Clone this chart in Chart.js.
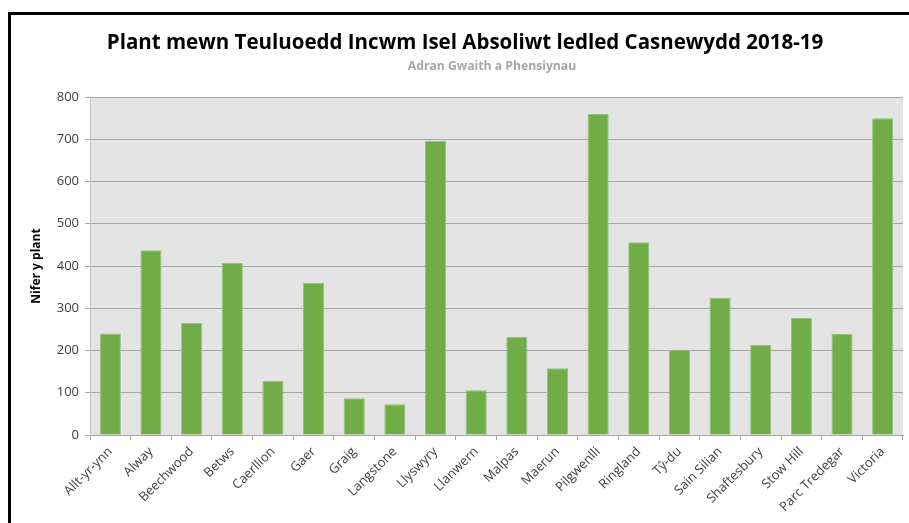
<!DOCTYPE html>
<html>
<head>
<meta charset="utf-8">
<script src="https://cdn.jsdelivr.net/npm/chart.js@4.4.1/dist/chart.umd.min.js"></script>
<style>
  html, body { margin: 0; padding: 0; background: #fff; }
  #wrap { position: relative; width: 909px; height: 523px; overflow: hidden; }
  #frameLeft { position: absolute; left: 8px; top: 12px; width: 3px; height: 520px; background: #000; }
  #frameTop { position: absolute; left: 8px; top: 12px; width: 910px; height: 3px; background: #000; }
  canvas { position: absolute; left: 0; top: 0; }
</style>
</head>
<body>
<div id="wrap">
  <canvas id="chart" width="909" height="523"></canvas>
  <div id="frameLeft"></div>
  <div id="frameTop"></div>
</div>
<script>
"use strict";

// Wards (x categories)
const wards = [
    "Allt-yr-ynn", "Alway", "Beechwood", "Betws", "Caerllion", "Gaer", "Graig",
    "Langstone", "Llyswyry", "Llanwern", "Malpas", "Maerun", "Pilgwenlli",
    "Ringland", "Tŷ-du", "Sain Silian", "Shaftesbury", "Stow Hill",
    "Parc Tredegar", "Victoria"
];

// Number of children per ward
const children = [
    240, 437, 265, 407, 128, 360, 87, 73, 696, 106,
    232, 158, 760, 456, 202, 325, 213, 277, 239, 750
];

const yTicks = [0, 100, 200, 300, 400, 500, 600, 700, 800];

const TITLE = "Plant mewn Teuluoedd Incwm Isel Absoliwt ledled Casnewydd 2018-19";
const SUBTITLE = "Adran Gwaith a Phensiynau";

const FONT = "'Open Sans', 'Noto Sans', sans-serif";

// grey plot background
const plotBackground = {
    id: "plotBackground",
    beforeDraw(chart) {
        const { ctx, chartArea: a } = chart;
        ctx.save();
        ctx.fillStyle = "#e4e4e4";
        ctx.fillRect(a.left, a.top, a.right - a.left, a.bottom - a.top);
        ctx.restore();
    }
};

// title + subtitle (the original sits a bit right of the canvas centre)
const headings = {
    id: "headings",
    afterDraw(chart) {
        const c = chart.ctx;
        c.save();
        c.textAlign = "center";
        c.textBaseline = "middle";
        c.fillStyle = "#000";
        c.font = "bold 20.5px " + FONT;
        c.fillText(TITLE, 465, 43);
        c.fillStyle = "#a6a6a6";
        c.font = "bold 12.2px " + FONT;
        c.fillText(SUBTITLE, 492, 67);
        c.restore();
    }
};

const ctx = document.getElementById("chart").getContext("2d");

new Chart(ctx, {
    type: "bar",
    data: {
        labels: wards,
        datasets: [{
            label: "Nifer y plant",
            data: children,
            backgroundColor: "#70ad47",
            borderColor: "#93c47a",
            borderWidth: 1,
            categoryPercentage: 1,
            barPercentage: 0.52
        }]
    },
    options: {
        responsive: false,
        animation: false,
        layout: { padding: { left: 0, right: 6, top: 97, bottom: 0 } },
        plugins: {
            legend: { display: false },
            tooltip: { enabled: false }
        },
        scales: {
            x: {
                grid: {
                    offset: true,
                    drawOnChartArea: false,
                    drawTicks: true,
                    tickLength: 5,
                    color: "#a6a6a6"
                },
                border: { color: "#a6a6a6" },
                ticks: {
                    color: "#404040",
                    font: { family: FONT, size: 13 },
                    maxRotation: 45,
                    minRotation: 45,
                    autoSkip: false,
                    padding: 4
                },
                afterFit(scale) { scale.height = 88; }
            },
            y: {
                min: 0,
                max: 800,
                afterBuildTicks(scale) {
                    scale.ticks = yTicks.map(v => ({ value: v }));
                },
                grid: {
                    color: "#a6a6a6",
                    tickLength: 5,
                    drawTicks: true
                },
                border: { color: "#c8c8c8" },
                ticks: {
                    color: "#404040",
                    font: { family: FONT, size: 13 },
                    padding: 6
                },
                title: {
                    display: true,
                    text: "Nifer y plant",
                    color: "#000",
                    font: { family: FONT, size: 12, weight: "bold" },
                    padding: { top: 29, bottom: 0 }
                },
                afterFit(scale) { scale.width = 90; }
            }
        }
    },
    plugins: [plotBackground, headings]
});
</script>
</body>
</html>
